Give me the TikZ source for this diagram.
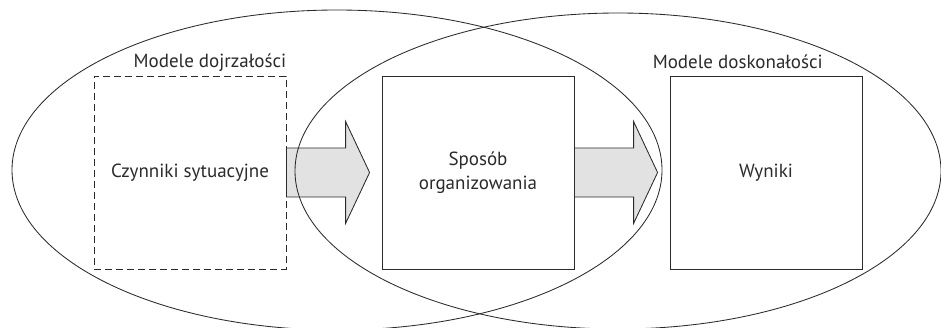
\documentclass[tikz,border=0pt]{standalone}
\usepackage{fontspec}
\setmainfont{PT Sans}
\usetikzlibrary{calc,shapes.geometric}

\definecolor{ink}{HTML}{2B2B2B}
\definecolor{arrowfill}{HTML}{E2E2E2}

\tikzset{
  panel/.style={draw=ink, line width=0.85pt, minimum width=192pt, minimum height=193pt,
                inner sep=0pt, align=center, text=ink, font=\fontsize{19}{24.5}\selectfont},
  dashpanel/.style={panel, dash pattern=on 7pt off 4pt},
  modelset/.style={draw=ink, line width=0.85pt, ellipse, inner sep=0pt},
  modelsetlabel/.style={text=ink, font=\fontsize{19}{24}\selectfont, inner sep=0pt},
  flow/.style={draw=ink, line width=0.85pt, fill=arrowfill, line join=miter},
}

\begin{document}
\begin{tikzpicture}[x=1pt,y=-1pt]
  \useasboundingbox (0,0) rectangle (941,327);
  \fill[white] (0,0) rectangle (941,327);
  \clip (0,0) rectangle (941,327);

  % the three stages
  \node[dashpanel] (czyn) at (190,172.5) {Czynniki sytuacyjne};
  \node[panel] (org) at (478,172.5) {Sposób\\organizowania};
  \node[panel] (wyn) at (766,172.5) {Wyniki};

  % block arrows between stages
  \coordinate (t1) at ($(org.west)+(-12,0)$);
  \coordinate (t2) at ($(wyn.west)+(-12,0)$);
  \draw[flow] ($(czyn.east)+(0,-24.5)$) -- ($(t1)+(-24,-24.5)$) -- ($(t1)+(-24,-51)$)
     -- (t1) -- ($(t1)+(-24,51)$) -- ($(t1)+(-24,24.5)$) -- ($(czyn.east)+(0,24.5)$) -- cycle;
  \draw[flow] ($(org.east)+(0,-24.5)$) -- ($(t2)+(-24,-24.5)$) -- ($(t2)+(-24,-51)$)
     -- (t2) -- ($(t2)+(-24,51)$) -- ($(t2)+(-24,24.5)$) -- ($(org.east)+(0,24.5)$) -- cycle;

  % the two overlapping model families
  \node[modelset, minimum width=650pt, minimum height=320pt] (mat) at (337,170) {};
  \node[modelset, minimum width=646pt, minimum height=316pt] (exc) at (618,171) {};

  \node[modelsetlabel, anchor=base east] (matlab) at ($(czyn.north east)+(0,-8)$) {Modele dojrzałości};
  \node[modelsetlabel, anchor=base west] (exclab) at ($(wyn.north west)+(-17,-7)$) {Modele doskonałości};
\end{tikzpicture}
\end{document}
